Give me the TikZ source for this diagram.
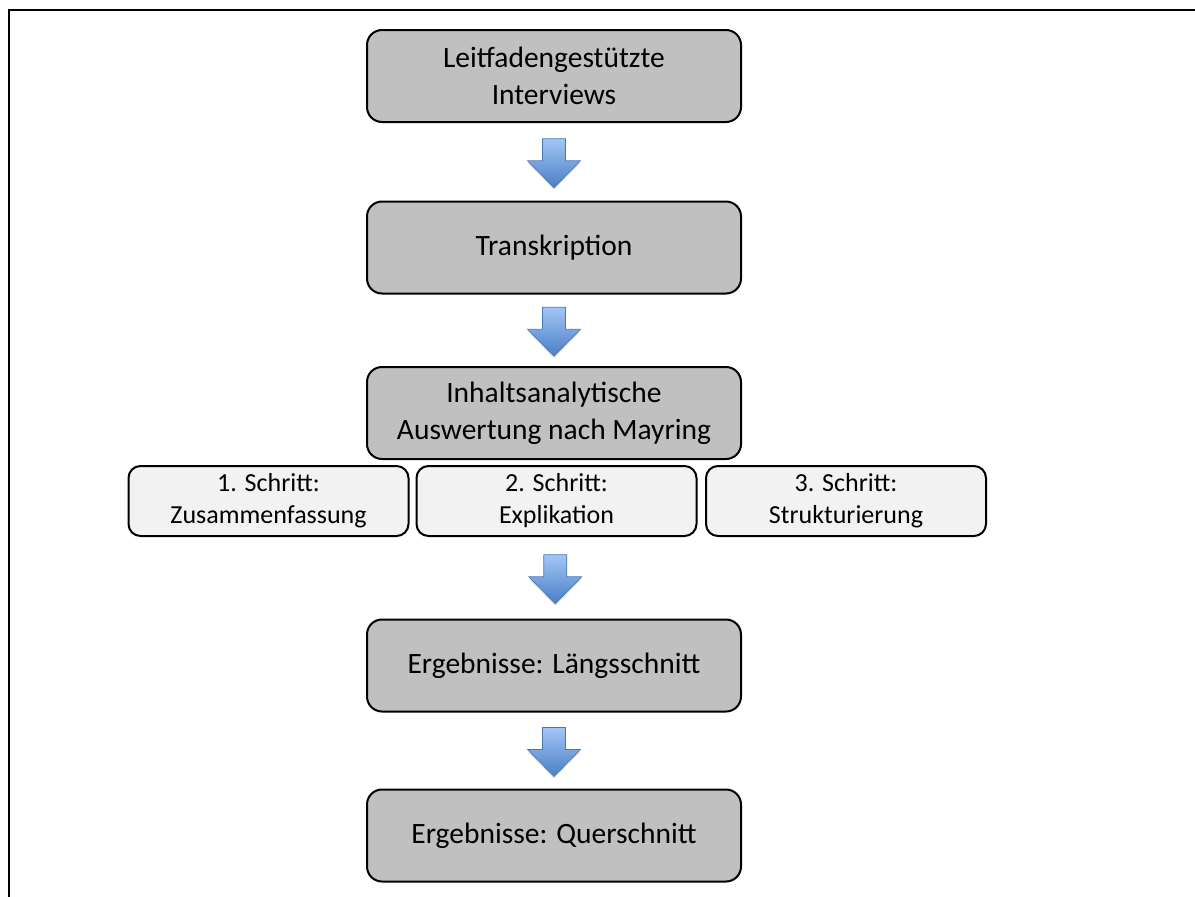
\documentclass[tikz,border=0pt]{standalone}
\usepackage{fontspec}
\setmainfont{Carlito}
\usetikzlibrary{calc,shadows}

\definecolor{boxgray}{RGB}{192,192,192}
\definecolor{steplight}{RGB}{242,242,242}
\definecolor{arrowtop}{RGB}{163,198,246}
\definecolor{arrowbot}{RGB}{74,126,196}
\definecolor{arrowline}{RGB}{70,118,180}

\tikzset{
    phase/.style={draw, line width=2pt, rounded corners=15pt, fill=boxgray,
        minimum width=374pt, minimum height=92pt, align=center,
        font=\fontsize{29.5}{37}\selectfont},
    substep/.style={draw, line width=2pt, rounded corners=12pt, fill=steplight,
        minimum width=280pt, minimum height=70pt, align=center,
        font=\fontsize{26}{32}\selectfont},
    flowarrow/.style={draw=arrowline, line width=0.6pt, top color=arrowtop, bottom color=arrowbot,
        drop shadow={opacity=0.25, shadow xshift=0pt, shadow yshift=-2pt}}
}

\begin{document}
\begin{tikzpicture}[x=1pt, y=-1pt]
    \useasboundingbox (0,0) rectangle (1195,897);

    % frame
    \draw [line width=1.5pt] (1195,10) -- (9,10) -- (9,897);

    % main phases
    \node [phase] (interviews) at (554,76) {Leitfadengestützte\\Interviews};
    \node [phase] (transkription) at (554,247.5) {Transkription};
    \node [phase] (auswertung) at (554,413) {Inhaltsanalytische\\Auswertung nach Mayring};
    \node [phase] (laengs) at (554,665.5) {Ergebnisse: Längsschnitt};
    \node [phase] (quer) at (554,835.5) {Ergebnisse: Querschnitt};

    % steps of the analysis
    \node [substep] (schritt1) at (268.5,501) {1. Schritt:\\Zusammenfassung};
    \node [substep] (schritt2) at (556.5,501) {2. Schritt:\\Explikation};
    \node [substep] (schritt3) at (846,501) {3. Schritt:\\Strukturierung};

    % block arrows
    \foreach \a/\b in {interviews/transkription, transkription/auswertung, schritt2/laengs, laengs/quer} {
        \coordinate (m) at ($(\a.south)!0.5!(\b.north)$);
        \draw [flowarrow] ([shift={(-11.5,-23)}]m) -- ([shift={(11.5,-23)}]m) -- ([shift={(11.5,-1)}]m)
            -- ([shift={(26.5,-1)}]m) -- ([shift={(0,26)}]m) -- ([shift={(-26.5,-1)}]m)
            -- ([shift={(-11.5,-1)}]m) -- cycle;
    }
\end{tikzpicture}
\end{document}
